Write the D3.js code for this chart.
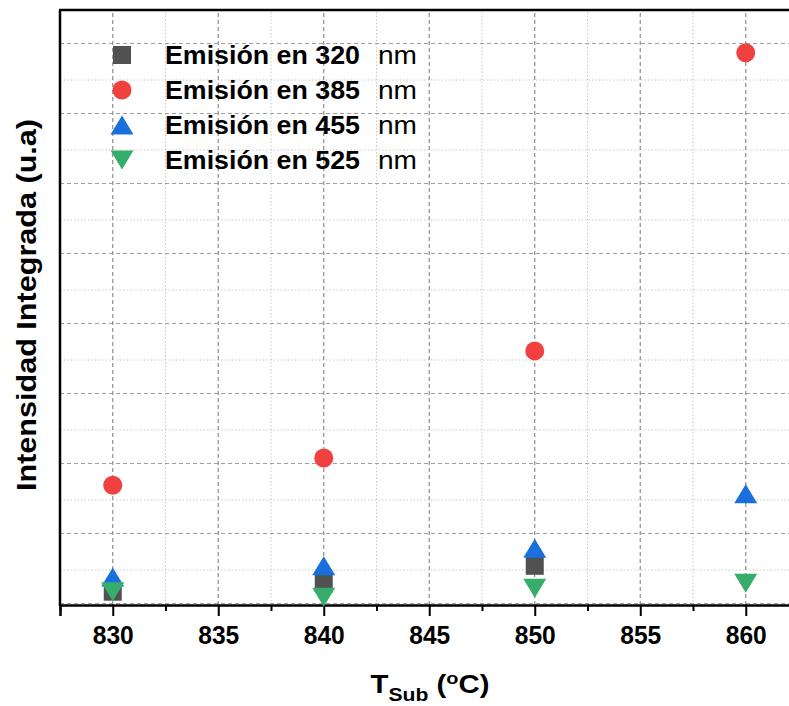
<!DOCTYPE html>
<html>
<head>
<meta charset="utf-8">
<script src="https://cdn.jsdelivr.net/npm/d3@7"></script>
<style>
    body { margin: 0; background: #fff; }
    svg { display: block; font-family: "Liberation Sans", Arial, sans-serif; }
</style>
</head>
<body>
<svg id="chart"></svg>
<script>
// datos (eje y sin etiquetas, unidades arbitrarias)
const temperaturas = [830, 840, 850, 860];
const emision320 = [0.19, 0.31, 0.56, null];
const emision385 = [1.71, 2.10, 3.63, 7.89];
const emision455 = [0.40, 0.56, 0.81, 1.59];
const emision525 = [0.19, 0.11, 0.24, 0.31];
const longitudes = ['320', '385', '455', '525'];
const xTicks = [830, 835, 840, 845, 850, 855, 860];

const series = [
    { nombre: longitudes[0], valores: emision320, color: '#515151', forma: 'square' },
    { nombre: longitudes[1], valores: emision385, color: '#F14040', forma: 'circle' },
    { nombre: longitudes[2], valores: emision455, color: '#1A6FDF', forma: 'up' },
    { nombre: longitudes[3], valores: emision525, color: '#37AD6B', forma: 'down' }
];

const width = 789;
const height = 706;
const margin = { top: 10, left: 60, bottom: 605 };

const x = d3.scaleLinear().domain([827.5, 862.5]).range([margin.left, margin.left + 35 * 21.1]);
const y = d3.scaleLinear().domain([0, 8.5]).range([margin.bottom, margin.top]);

const svg = d3.select('#chart').attr('width', width).attr('height', height);

// forma del marcador, centrada en (0,0)
function marcador(forma) {
    if (forma === 'square') return 'M-9,-9H9V9H-9Z';
    if (forma === 'circle') return d3.symbol(d3.symbolCircle, Math.PI * 9.5 * 9.5)();
    if (forma === 'up') return 'M0,-9.5L11.5,9.5L-11.5,9.5Z';
    return 'M0,9.5L11.5,-9.5L-11.5,-9.5Z';
}

// rejilla
const grid = svg.append('g');
const yMajor = d3.range(0, 9, 1);
const yMinor = d3.range(0.5, 8.5, 1);
const xMinor = d3.range(827.5, 863, 5);

grid.selectAll('.ymin').data(yMinor).enter().append('line')
    .attr('x1', x.range()[0]).attr('x2', x.range()[1])
    .attr('y1', d => y(d)).attr('y2', d => y(d))
    .style('stroke', '#c8c8c8').style('stroke-width', 1).style('stroke-dasharray', '1.5,2');
grid.selectAll('.xmin').data(xMinor).enter().append('line')
    .attr('x1', d => x(d)).attr('x2', d => x(d))
    .attr('y1', y(0)).attr('y2', y(8.5))
    .style('stroke', '#c8c8c8').style('stroke-width', 1).style('stroke-dasharray', '1.5,2');
grid.selectAll('.ymaj').data(yMajor).enter().append('line')
    .attr('x1', x.range()[0]).attr('x2', x.range()[1])
    .attr('y1', d => y(d) - 1.5).attr('y2', d => y(d) - 1.5)
    .style('stroke', '#a0a0a0').style('stroke-width', 1.2).style('stroke-dasharray', '4,3');
grid.selectAll('.xmaj').data(xTicks).enter().append('line')
    .attr('x1', d => x(d)).attr('x2', d => x(d))
    .attr('y1', y(0)).attr('y2', y(8.5))
    .style('stroke', '#8c8c8c').style('stroke-width', 1.2).style('stroke-dasharray', '4,3');

// ejes
const xAxis = d3.axisBottom(x).tickValues(xTicks).tickSize(11).tickFormat(d3.format('d'));
const gx = svg.append('g').attr('transform', `translate(0, ${y(0)})`).call(xAxis);
gx.select('.domain').style('stroke', '#000').style('stroke-width', 2.5);
gx.selectAll('.tick line').style('stroke', '#000').style('stroke-width', 2);
gx.selectAll('.tick text')
    .attr('y', 39)
    .attr('dy', 0)
    .attr('textLength', 41).attr('lengthAdjust', 'spacingAndGlyphs')
    .style('font-size', '25px')
    .style('font-weight', 'bold')
    .style('font-family', '"Liberation Sans", Arial, sans-serif')
    .style('fill', '#000');

const xAxisMinor = d3.axisBottom(x).tickValues(xMinor).tickSize(6).tickFormat('');
const gxm = svg.append('g').attr('transform', `translate(0, ${y(0)})`).call(xAxisMinor);
gxm.select('.domain').remove();
gxm.selectAll('.tick line').style('stroke', '#000').style('stroke-width', 2);

svg.append('line')
    .attr('x1', x.range()[0]).attr('x2', x.range()[0])
    .attr('y1', y(8.5)).attr('y2', y(0) + 1)
    .style('stroke', '#000').style('stroke-width', 2.5);
svg.append('line')
    .attr('x1', x.range()[0] - 1).attr('x2', x.range()[1])
    .attr('y1', y(8.5)).attr('y2', y(8.5))
    .style('stroke', '#000').style('stroke-width', 2.5);

// puntos
series.forEach(s => {
    const datos = temperaturas.map((t, i) => ({ t, v: s.valores[i] })).filter(d => d.v !== null);
    svg.append('g').selectAll('path').data(datos).enter().append('path')
        .attr('d', marcador(s.forma))
        .attr('transform', d => `translate(${x(d.t)}, ${y(d.v)})`)
        .style('fill', s.color);
});

// leyenda
const legend = svg.append('g').selectAll('g').data(series).enter().append('g')
    .attr('transform', (d, i) => `translate(122, ${55 + i * 35})`);
legend.append('path')
    .attr('d', d => marcador(d.forma))
    .style('fill', d => d.color);
legend.append('text')
    .attr('x', 43).attr('y', 9)
    .attr('textLength', 195).attr('lengthAdjust', 'spacingAndGlyphs')
    .style('font-size', '25px').style('font-weight', 'bold')
    .text(d => `Emisión en ${d.nombre}`);
legend.append('text')
    .attr('x', 256).attr('y', 9)
    .attr('textLength', 39).attr('lengthAdjust', 'spacingAndGlyphs')
    .style('font-size', '25px')
    .text('nm');

// titulos
const xt = svg.append('text')
    .attr('x', 430).attr('y', 693)
    .attr('text-anchor', 'middle')
    .attr('textLength', 119).attr('lengthAdjust', 'spacingAndGlyphs')
    .style('font-size', '25px').style('font-weight', 'bold');
xt.append('tspan').text('T');
xt.append('tspan').attr('dy', 8).style('font-size', '18px').text('Sub');
xt.append('tspan').attr('dy', -8).text(' (');
xt.append('tspan').attr('dy', -9).style('font-size', '17px').text('o');
xt.append('tspan').attr('dy', 9).text('C)');

svg.append('text')
    .attr('transform', 'rotate(-90)')
    .attr('x', -305).attr('y', 36)
    .attr('text-anchor', 'middle')
    .attr('textLength', 372).attr('lengthAdjust', 'spacingAndGlyphs')
    .style('font-size', '27px').style('font-weight', 'bold')
    .text('Intensidad Integrada (u.a)');
</script>
</body>
</html>
